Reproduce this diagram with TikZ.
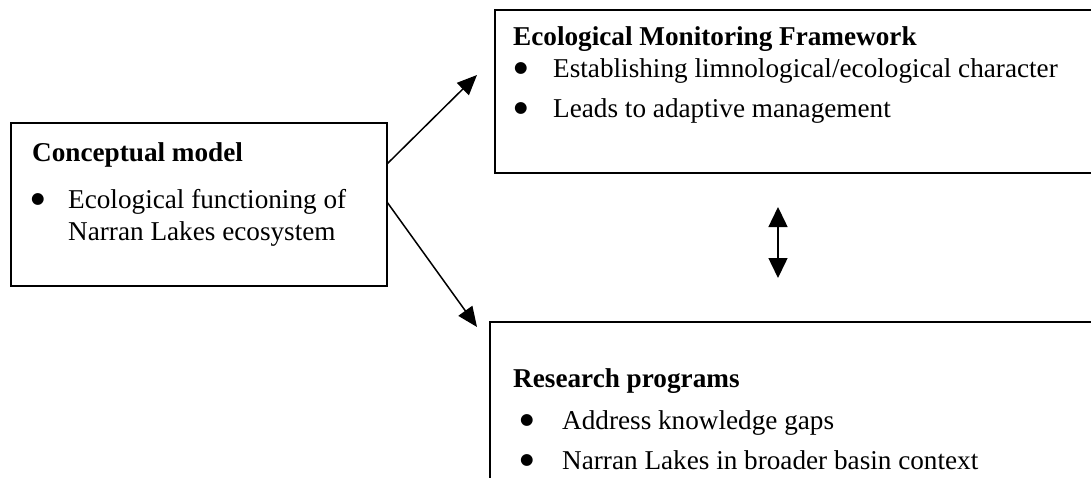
\documentclass[tikz,border=0pt]{standalone}
\usepackage{fontspec}
\setmainfont{Liberation Serif}
\newfontfamily\bulfont{DejaVu Sans}
\usetikzlibrary{arrows.meta}
\newcommand{\bigbul}{\raisebox{5pt}{\bulfont\fontsize{15.5}{15.5}\selectfont ●}}
\begin{document}
\begin{tikzpicture}[x=1pt,y=-1pt,
  box/.style={draw=black,line width=1.8pt,inner sep=0pt,outer sep=0pt},
  txt/.style={anchor=base west,inner sep=0pt,font=\fontsize{27.2}{32}\selectfont},
  bul/.style={anchor=base,inner sep=0pt},
  ttl/.style={txt,font=\fontsize{27.2}{32}\selectfont\bfseries},
  conn/.style={line width=1.5pt,-{Triangle[length=20pt,width=17pt]}},
  dconn/.style={line width=1.5pt,{Triangle[length=20pt,width=19pt]}-{Triangle[length=20pt,width=19pt]}}]
\useasboundingbox (0,0) rectangle (1091,477);
\clip (0,0) rectangle (1091,477);
% boxes
\node[box,minimum width=376pt,minimum height=163pt,anchor=north west] (concept) at (11,123) {};
\node[box,minimum width=640pt,minimum height=163pt,anchor=north west] (emf) at (495,10) {};
\node[box,minimum width=640pt,minimum height=163pt,anchor=north west] (rp) at (490,322) {};
% conceptual model text
\node[ttl] (ct) at (32,161) {Conceptual model};
\node[bul] (cb) at (38,208) {\bigbul};
\node[txt] (c1) at (68,208) {Ecological functioning of};
\node[txt] (c2) at (68,240) {Narran Lakes ecosystem};
% EMF text
\node[ttl] (et) at (513,45) {Ecological Monitoring Framework};
\node[bul] (eb1) at (521,77) {\bigbul};
\node[txt] (e1) at (553,77) {Establishing limnological/ecological character};
\node[bul] (eb2) at (521,117) {\bigbul};
\node[txt] (e2) at (553,117) {Leads to adaptive management};
% RP text
\node[ttl] (rt) at (513,387) {Research programs};
\node[bul] (rb1) at (527,429) {\bigbul};
\node[txt] (r1) at (562,429) {Address knowledge gaps};
\node[bul] (rb2) at (527,469) {\bigbul};
\node[txt] (r2) at (562,469) {Narran Lakes in broader basin context};
% connectors
\coordinate (s1) at (387,164);
\coordinate (t1) at (477,75);
\coordinate (s2) at (387,202);
\coordinate (t2) at (477,327);
\coordinate (d1) at (778,207);
\coordinate (d2) at (778,278);
\draw[conn] (s1) -- (t1);
\draw[conn] (s2) -- (t2);
\draw[dconn] (d1) -- (d2);
\end{tikzpicture}
\end{document}
